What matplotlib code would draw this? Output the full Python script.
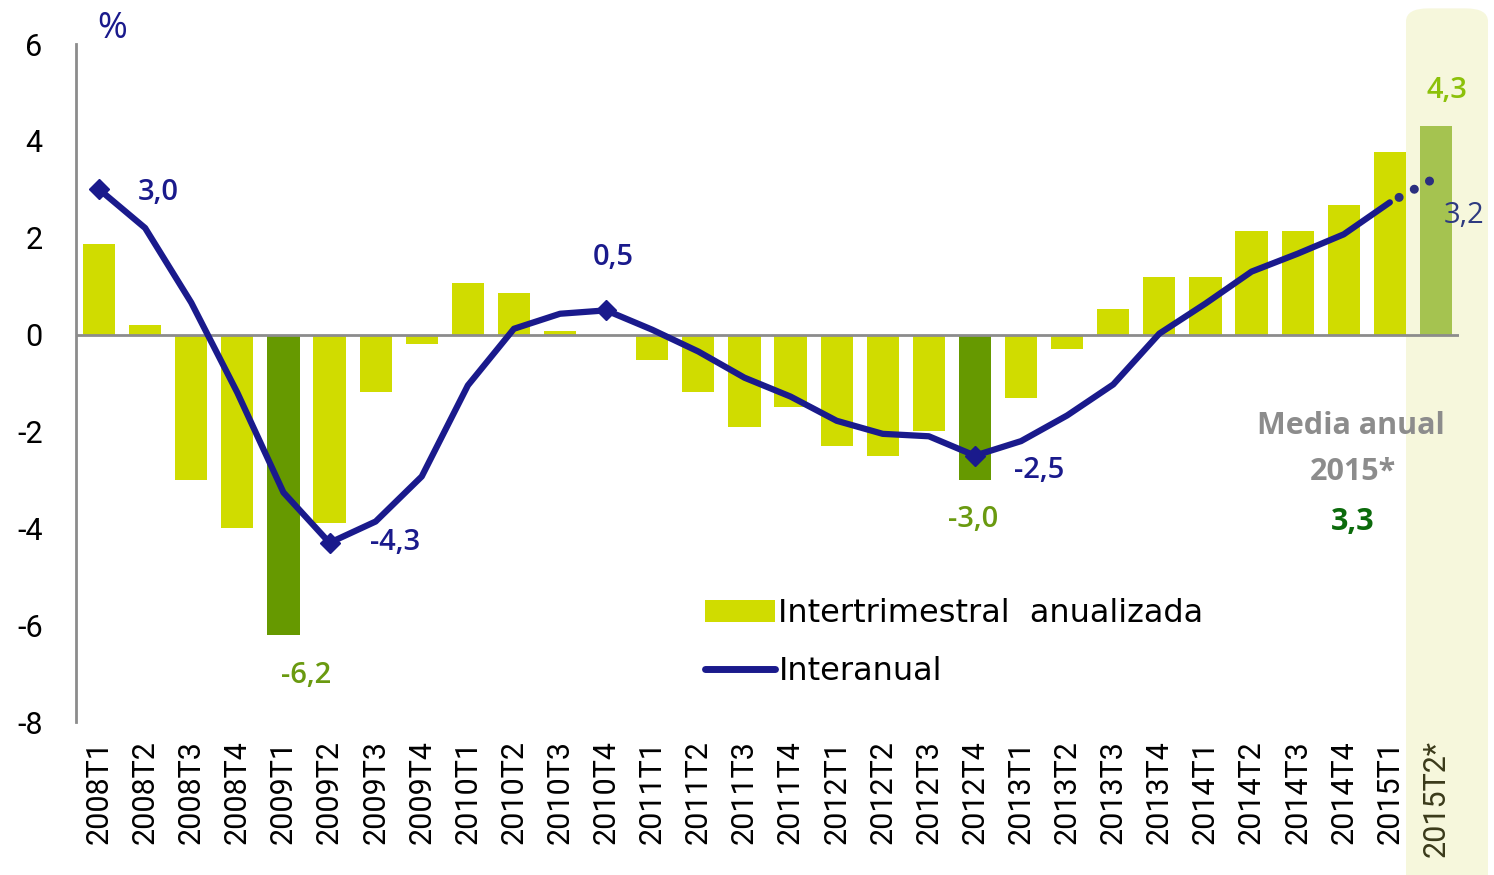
import matplotlib
matplotlib.use("Agg")
import matplotlib.pyplot as plt
from matplotlib.patches import FancyBboxPatch, Patch
from matplotlib.lines import Line2D

plt.rcParams['font.family'] = ['Roboto', 'DejaVu Sans']
plt.rcParams['axes.unicode_minus'] = False

trimestres = ['2008T1', '2008T2', '2008T3', '2008T4', '2009T1', '2009T2', '2009T3', '2009T4',
              '2010T1', '2010T2', '2010T3', '2010T4', '2011T1', '2011T2', '2011T3', '2011T4',
              '2012T1', '2012T2', '2012T3', '2012T4', '2013T1', '2013T2', '2013T3', '2013T4',
              '2014T1', '2014T2', '2014T3', '2014T4', '2015T1', '2015T2*']

intertrimestral = [1.86, 0.19, -3.0, -4.0, -6.2, -3.9, -1.18, -0.19,
                   1.07, 0.85, 0.08, 0.0, -0.52, -1.18, -1.9, -1.5,
                   -2.3, -2.5, -2.0, -3.0, -1.3, -0.29, 0.52, 1.18,
                   1.18, 2.13, 2.13, 2.67, 3.78, 4.3]

interanual = [3.0, 2.2, 0.66, -1.2, -3.26, -4.3, -3.86, -2.93,
              -1.05, 0.12, 0.43, 0.5, 0.1, -0.35, -0.89, -1.28,
              -1.78, -2.05, -2.1, -2.5, -2.2, -1.67, -1.03, 0.02,
              0.64, 1.3, 1.67, 2.07, 2.73]
interanual_prev = 3.2  # 2015T2* (previsión)

destacados_barra = [4, 19]       # 2009T1, 2012T4
destacados_linea = [0, 5, 11, 19]

C_BAR = '#D0DC00'
C_BAR_OSC = '#669900'
C_BAR_PREV = '#A5C350'
C_LINEA = '#1A1A8C'

fig = plt.figure(figsize=(14.94, 8.75), dpi=100)
ax = fig.add_axes([76 / 1494, 1 - 722 / 875, (1459 - 76) / 1494, (722 - 44) / 875])
ax.patch.set_alpha(0)

# Fondo sombreado de la previsión
fondo = FancyBboxPatch((1406 / 1494, -0.05), 82 / 1494, 0.045 + (875 - 4) / 875,
                       boxstyle='round,pad=0,rounding_size=0.015',
                       transform=fig.transFigure, facecolor='#F6F7DC',
                       edgecolor='none', zorder=-1)
fig.add_artist(fondo)

x = list(range(len(trimestres)))
colores = [C_BAR] * len(trimestres)
for i in destacados_barra:
    colores[i] = C_BAR_OSC
colores[-1] = C_BAR_PREV
ax.bar(x, intertrimestral, width=0.7, color=colores, zorder=2)

ax.axhline(0, color='#8C8C8C', lw=2, zorder=3)

ax.plot(x[:len(interanual)], interanual, color=C_LINEA, lw=4.5,
        solid_capstyle='round', solid_joinstyle='round', zorder=4)

# tramo punteado hacia la previsión
x0, y0 = x[len(interanual) - 1], interanual[-1]
x1 = x[-1] - 0.08
f0 = 0.2 / (x1 - x0)
ax.plot([x0 + f0 * (x1 - x0), x1], [y0 + f0 * (interanual_prev - y0), interanual_prev],
        color='#2B2F7F', lw=6.5, linestyle=(0, (0.01, 1.9)),
        dash_capstyle='round', zorder=4)
ax.plot([x[i] for i in destacados_linea], [interanual[i] for i in destacados_linea],
        linestyle='none', marker='D', ms=10, color=C_LINEA, zorder=5)

# Etiquetas de datos
fe = dict(family=['Open Sans', 'DejaVu Sans'], fontsize=21, fontweight='semibold',
          ha='center', va='center')
ax.text(1.28, 2.93, '3,0', color=C_LINEA, **fe)
ax.text(6.42, -4.3, '-4,3', color=C_LINEA, **fe)
ax.text(11.15, 1.59, '0,5', color=C_LINEA, **fe)
ax.text(20.4, -2.81, '-2,5', color=C_LINEA, **fe)
ax.text(4.49, -7.05, '-6,2', color='#6A9A10', **fe)
ax.text(18.96, -3.82, '-3,0', color='#6A9A10', **fe)
ax.text(29.24, 5.04, '4,3', color='#8CC10A', **fe)
ax.text(29.62, 2.46, '3,2', color='#2E3A80',
        **{**fe, 'fontweight': 'normal'})
ax.text(0.28, 6.3, '%', color=C_LINEA, **{**fe, 'fontweight': 'normal', 'fontsize': 26})

fm = dict(family=['Open Sans', 'DejaVu Sans'], fontsize=22, fontweight='bold',
          ha='center', va='center')
ax.text(27.16, -1.88, 'Media anual', color='#8C8C8C', **fm)
ax.text(27.2, -2.83, '2015*', color='#8C8C8C', **fm)
ax.text(27.2, -3.86, '3,3', color='#0B6A0B', **fm)

ax.set_xlim(-0.5, len(trimestres) - 0.5)
ax.set_ylim(-8, 6)
ax.set_yticks(range(-8, 7, 2))
ax.set_xticks(x)
ax.set_xticklabels(trimestres, rotation=90, fontsize=22)
ax.tick_params(axis='y', length=0, pad=24, labelsize=22)
ax.tick_params(axis='x', length=0, pad=13)
for lab in ax.get_xticklabels():
    lab.set_va('top')
ax.get_xticklabels()[-1].set_color('#3A3A1A')

for s in ['top', 'right', 'bottom']:
    ax.spines[s].set_visible(False)
ax.spines['left'].set_color('#8C8C8C')
ax.spines['left'].set_linewidth(2)

handles = [Patch(facecolor=C_BAR, edgecolor='none'),
           Line2D([0], [0], color=C_LINEA, lw=5, solid_capstyle='round')]
ax.legend(handles, ['Intertrimestral  anualizada', 'Interanual'],
          loc='upper left', bbox_to_anchor=(0.434, 0.225), frameon=False,
          prop={'family': ['DejaVu Sans'], 'size': 23}, handlelength=2.2,
          handleheight=0.7, handletextpad=0.1, labelspacing=0.85)

fig.savefig('out.png', dpi=100)
